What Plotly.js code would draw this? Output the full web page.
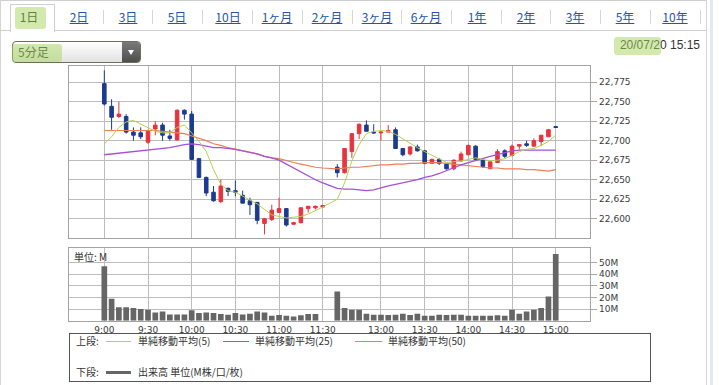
<!DOCTYPE html>
<html><head><meta charset="utf-8">
<script src="https://cdn.plot.ly/plotly-3.0.1.min.js"></script>
<style>
html,body{margin:0;padding:0;width:719px;height:385px;overflow:hidden;background:#fff;font-family:"Noto Sans CJK JP","Noto Sans",sans-serif;}
#chart{position:absolute;left:0;top:0;width:719px;height:385px;}
.ov{position:absolute;z-index:5;white-space:nowrap;}
.tab{position:absolute;top:8px;font-size:12px;line-height:18px;color:#2455a8;text-decoration:underline;transform:translateX(-50%);z-index:6;}
.sep{position:absolute;top:10px;width:1px;height:14px;background:#d6d6d6;z-index:5;}
.hl{position:absolute;background:rgba(168,214,96,0.5);z-index:7;border-radius:3px;}
.lg{position:absolute;font-size:10px;line-height:12px;color:#333;z-index:6;white-space:nowrap;}
.lgl{position:absolute;z-index:6;}
</style></head>
<body>
<div id="chart"></div>
<script>
// ---------------- data ----------------
const morningTimes = ["9:00","9:05","9:10","9:15","9:20","9:25","9:30","9:35","9:40","9:45","9:50","9:55",
 "10:00","10:05","10:10","10:15","10:20","10:25","10:30","10:35","10:40","10:45","10:50","10:55",
 "11:00","11:05","11:10","11:15","11:20","11:25","11:30"];
const afternoonTimes = ["12:30","12:35","12:40","12:45","12:50","12:55",
 "13:00","13:05","13:10","13:15","13:20","13:25","13:30","13:35","13:40","13:45","13:50","13:55",
 "14:00","14:05","14:10","14:15","14:20","14:25","14:30","14:35","14:40","14:45","14:50","14:55","15:00"];
const lunchGap = " ";
const tickTimes = ["9:00","9:30","10:00","10:30","11:00","11:30","13:00","13:30","14:00","14:30","15:00"];
const priceTicks = [22600,22625,22650,22675,22700,22725,22750,22775];
const volTicks = [10,20,30,40,50];
const volTickText = ["10M","20M","30M","40M","50M"];

const openP = [22773,22744,22731,22731,22711,22710,22698,22715,22720,22706,22701,22739,22734,22677,22653,22634,22622,22639,22636,22630,22623,22621,22594,22599,22608,22613,22593,22595,22613,22614,22615,
 22666,22659,22686,22709,22720,22711,22710,22711,22714,22690,22683,22692,22687,22671,22676,22670,22664,22674,22682,22693,22675,22664,22672,22687,22681,22693,22696,22693,22699,22705,22718];
const highP = [22790,22753,22750,22734,22717,22717,22714,22725,22723,22714,22740,22740,22738,22678,22654,22642,22650,22640,22649,22636,22627,22621,22601,22618,22627,22613,22596,22615,22616,22617,22617,
 22670,22690,22709,22722,22726,22721,22712,22720,22717,22690,22693,22695,22688,22677,22678,22671,22676,22686,22695,22694,22677,22674,22689,22689,22695,22695,22700,22703,22707,22715,22718];
const lowP = [22745,22714,22729,22709,22700,22702,22696,22707,22700,22700,22700,22727,22676,22652,22629,22622,22620,22629,22629,22620,22605,22593,22580,22597,22608,22590,22592,22594,22608,22612,22615,
 22653,22658,22678,22702,22712,22709,22700,22711,22690,22680,22681,22686,22670,22670,22669,22663,22662,22673,22681,22674,22665,22664,22672,22678,22680,22689,22692,22693,22693,22705,22717];
const closeP = [22747,22730,22734,22711,22707,22705,22712,22720,22707,22703,22739,22734,22676,22653,22633,22623,22642,22635,22634,22620,22618,22598,22600,22611,22613,22592,22595,22614,22616,22616,22617,
 22659,22690,22709,22721,22712,22710,22711,22713,22690,22682,22692,22687,22671,22676,22671,22664,22675,22683,22694,22676,22667,22673,22686,22680,22693,22695,22694,22700,22707,22714,22717];

const ma5 = [22696,22705,22717,22724,22726,22721,22716,22712,22710,22710,22717,22720,22710,22699,22686,22663,22644,22636,22634,22629,22625,22619,22612,22605,22603,22601,22602,22603,22606,22610,22615,
 22625,22646,22674,22695,22709,22712,22713,22712,22708,22702,22696,22691,22686,22681,22676,22672,22673,22674,22676,22678,22676,22674,22675,22677,22681,22686,22689,22690,22694,22699,22707];
const ma25 = [22682,22683,22684,22685,22686,22687,22688,22689,22690,22691,22693,22695,22696,22695,22693,22691,22691,22690,22689,22687,22685,22683,22680,22678,22675,22670,22664,22659,22654,22650,22646,
 22639,22638,22638,22637,22636,22637,22640,22642,22644,22646,22648,22650,22653,22655,22658,22662,22665,22669,22672,22675,22677,22680,22682,22685,22687,22688,22688,22688,22688,22688,22688];
const ma50 = [22713,22713,22713,22713,22713,22713,22713,22713,22712,22711,22710,22709,22706,22703,22700,22696,22694,22691,22689,22687,22685,22683,22680,22678,22677,22674,22672,22670,22668,22666,22665,
 22664,22665,22666,22666,22667,22668,22669,22669,22670,22670,22671,22671,22672,22672,22672,22671,22670,22669,22668,22667,22666,22665,22665,22664,22664,22664,22663,22663,22662,22661,22663];

const volMorning = [47,19,11.7,11.7,10.9,10,9.4,7.1,8,5.4,5.4,5.4,8.9,6.6,7.1,6.6,5.7,5.2,6.6,5.4,6,8,7.1,4.3,4.9,4.3,3.7,4.6,5.7,5.7,null];
const volAfternoon = [25.2,10.9,9.4,9.4,6,5.2,5.2,5,5.2,6,5,6,4.3,4.3,5.2,5,5.2,5.2,4.3,4.3,4.3,4.3,4.6,4.3,9.4,6,8,9.4,10.9,20.9,57.5];

// ---------------- chart ----------------
const times = morningTimes.concat(afternoonTimes);
const allCats = morningTimes.concat([lunchGap], afternoonTimes);
const volX = allCats;
const volY = volMorning.concat([null], volAfternoon);

const RED = '#e8333f', BLUE = '#1c3b8f';
const GRID = '#bdbdbd', BORDER = '#a3a3a3';
const W = 719, H = 385;
const xDom = [69/W, 590.3/W];
const pDom = [1-238.3/H, 1-65.7/H];
const vDom = [1-320.7/H, 1-248.3/H];
const tickFont = {family:'DejaVu Sans, sans-serif', size:9, color:'#3a3a3a'};

const traces = [
 {type:'candlestick', x:times, open:openP, high:highP, low:lowP, close:closeP, xaxis:'x', yaxis:'y',
  increasing:{line:{color:RED,width:1}, fillcolor:RED},
  decreasing:{line:{color:BLUE,width:1}, fillcolor:BLUE},
  whiskerwidth:0, hoverinfo:'skip'},
 {type:'scatter', mode:'lines', x:times, y:ma50, xaxis:'x', yaxis:'y', line:{color:'#ee7d58', width:1.2}, hoverinfo:'skip'},
 {type:'scatter', mode:'lines', x:times, y:ma25, xaxis:'x', yaxis:'y', line:{color:'#a64fdc', width:1.3}, hoverinfo:'skip'},
 {type:'scatter', mode:'lines', x:times, y:ma5, xaxis:'x', yaxis:'y', line:{color:'#b6d052', width:1}, hoverinfo:'skip'},
 {type:'bar', x:volX, y:volY, xaxis:'x2', yaxis:'y2', marker:{color:'#666666', line:{width:0}}, hoverinfo:'skip'}
];

const xCommon = {type:'category', categoryorder:'array', categoryarray:allCats, range:[-4.85,66.75],
 tickvals:tickTimes, ticktext:tickTimes, ticks:'', showgrid:true, gridcolor:GRID, gridwidth:1,
 showline:true, mirror:true, linecolor:BORDER, linewidth:1, zeroline:false, fixedrange:true, tickfont:tickFont};

const layout = {
 width:W, height:H, margin:{l:0,r:0,t:0,b:0}, paper_bgcolor:'#fff', plot_bgcolor:'#fff',
 showlegend:false, boxgap:0.3, bargap:0.22, dragmode:false,
 xaxis:Object.assign({}, xCommon, {domain:xDom, anchor:'y', showticklabels:false, rangeslider:{visible:false}}),
 yaxis:{domain:pDom, anchor:'x', range:[22575,22796], side:'right', tickvals:priceTicks, tickformat:',d',
  ticks:'outside', ticklen:6, tickcolor:'#a8a8a8', showgrid:true, gridcolor:GRID, showline:true, mirror:true,
  linecolor:BORDER, zeroline:false, tickfont:tickFont, fixedrange:true},
 xaxis2:Object.assign({}, xCommon, {domain:xDom, anchor:'y2', showticklabels:true}),
 yaxis2:{domain:vDom, anchor:'x2', range:[0,62.4], side:'right', tickvals:volTicks, ticktext:volTickText,
  ticks:'outside', ticklen:6, tickcolor:'#a8a8a8', showgrid:true, gridcolor:GRID, showline:true, mirror:true,
  linecolor:BORDER, zeroline:false, tickfont:tickFont, fixedrange:true},
 annotations:[{xref:'paper', yref:'paper', x:72/W, y:1-256/H, xanchor:'left', yanchor:'middle', showarrow:false,
  text:'単位: M', font:{family:'Noto Sans CJK JP, sans-serif', size:10, color:'#333'}}]
};

Plotly.newPlot('chart', traces, layout, {staticPlot:true, displayModeBar:false});
</script>

<!-- frame -->
<div class="ov" style="left:0;top:0;width:706px;height:1px;background:#cfcfcf;"></div>
<div class="ov" style="left:0;top:0;width:1px;height:385px;background:#d4d4d4;"></div>
<div class="ov" style="left:706px;top:0;width:1px;height:385px;background:#cdd5de;"></div>
<div class="ov" style="left:710px;top:0;width:3px;height:385px;background:#e4e9ef;"></div>
<!-- tab bar -->
<div class="ov" style="left:0;top:30px;width:10px;height:1px;background:#cfcfcf;"></div>
<div class="ov" style="left:54px;top:30px;width:652px;height:1px;background:#cfcfcf;"></div>
<div class="ov" style="left:10px;top:4px;width:43px;height:27px;border:1px solid #cfcfcf;border-bottom:none;background:#fff;"></div>
<div class="tab" style="left:29px;color:#222;text-decoration:none;">1日</div>
<div class="tab" style="left:79px;">2日</div>
<div class="tab" style="left:128px;">3日</div>
<div class="tab" style="left:177px;">5日</div>
<div class="tab" style="left:228px;">10日</div>
<div class="tab" style="left:277px;">1ヶ月</div>
<div class="tab" style="left:327px;">2ヶ月</div>
<div class="tab" style="left:377px;">3ヶ月</div>
<div class="tab" style="left:426px;">6ヶ月</div>
<div class="tab" style="left:477px;">1年</div>
<div class="tab" style="left:526px;">2年</div>
<div class="tab" style="left:575px;">3年</div>
<div class="tab" style="left:625px;">5年</div>
<div class="tab" style="left:675px;">10年</div>
<div class="sep" style="left:103px;"></div>
<div class="sep" style="left:152px;"></div>
<div class="sep" style="left:202px;"></div>
<div class="sep" style="left:252px;"></div>
<div class="sep" style="left:302px;"></div>
<div class="sep" style="left:352px;"></div>
<div class="sep" style="left:401px;"></div>
<div class="sep" style="left:451px;"></div>
<div class="sep" style="left:501px;"></div>
<div class="sep" style="left:550px;"></div>
<div class="sep" style="left:600px;"></div>
<div class="sep" style="left:650px;"></div>
<div class="sep" style="left:700px;"></div>
<div class="hl" style="left:15px;top:7px;width:31px;height:22px;"></div>
<!-- dropdown -->
<div class="ov" style="left:12px;top:41px;width:127px;height:20px;border:1px solid #6e6e5c;border-radius:4px;background:linear-gradient(#ffffff,#e2e2e2);overflow:hidden;">
 <div style="position:absolute;left:5px;top:1px;font-size:12px;line-height:18px;color:#333;">5分足</div>
 <div style="position:absolute;right:0;top:0;width:18px;height:20px;background:linear-gradient(#7a7a7a,#4e4e4e);"></div>
 <div style="position:absolute;right:6px;top:8px;width:0;height:0;border-left:3px solid transparent;border-right:3px solid transparent;border-top:5px solid #fff;"></div>
</div>
<div class="hl" style="left:12px;top:44px;width:50px;height:18px;"></div>
<!-- date -->
<div class="ov" style="left:610px;top:37px;width:90px;text-align:right;font-family:'Liberation Sans',Arial,sans-serif;font-size:12px;line-height:16px;color:#333;">20/07/20 15:15</div>
<div class="hl" style="left:614px;top:37px;width:47px;height:18px;"></div>
<!-- legend box -->
<div class="ov" style="left:69px;top:333px;width:580px;height:47px;border:1px solid #555;background:#fff;z-index:4;"></div>
<div class="lg" style="left:76px;top:335px;">上段:</div>
<div class="lgl" style="left:106px;top:341px;width:25px;height:1px;background:#b6d052;"></div>
<div class="lg" style="left:138px;top:335px;">単純移動平均(5)</div>
<div class="lgl" style="left:223px;top:341px;width:26px;height:1px;background:#a64fdc;"></div>
<div class="lg" style="left:255px;top:335px;">単純移動平均(25)</div>
<div class="lgl" style="left:355px;top:341px;width:27px;height:1px;background:#ee7d58;"></div>
<div class="lg" style="left:388px;top:335px;">単純移動平均(50)</div>
<div class="lg" style="left:76px;top:366px;">下段:</div>
<div class="lgl" style="left:106px;top:371px;width:25px;height:3px;background:#666;"></div>
<div class="lg" style="left:138px;top:366px;">出来高 単位(M株/口/枚)</div>
</body></html>
